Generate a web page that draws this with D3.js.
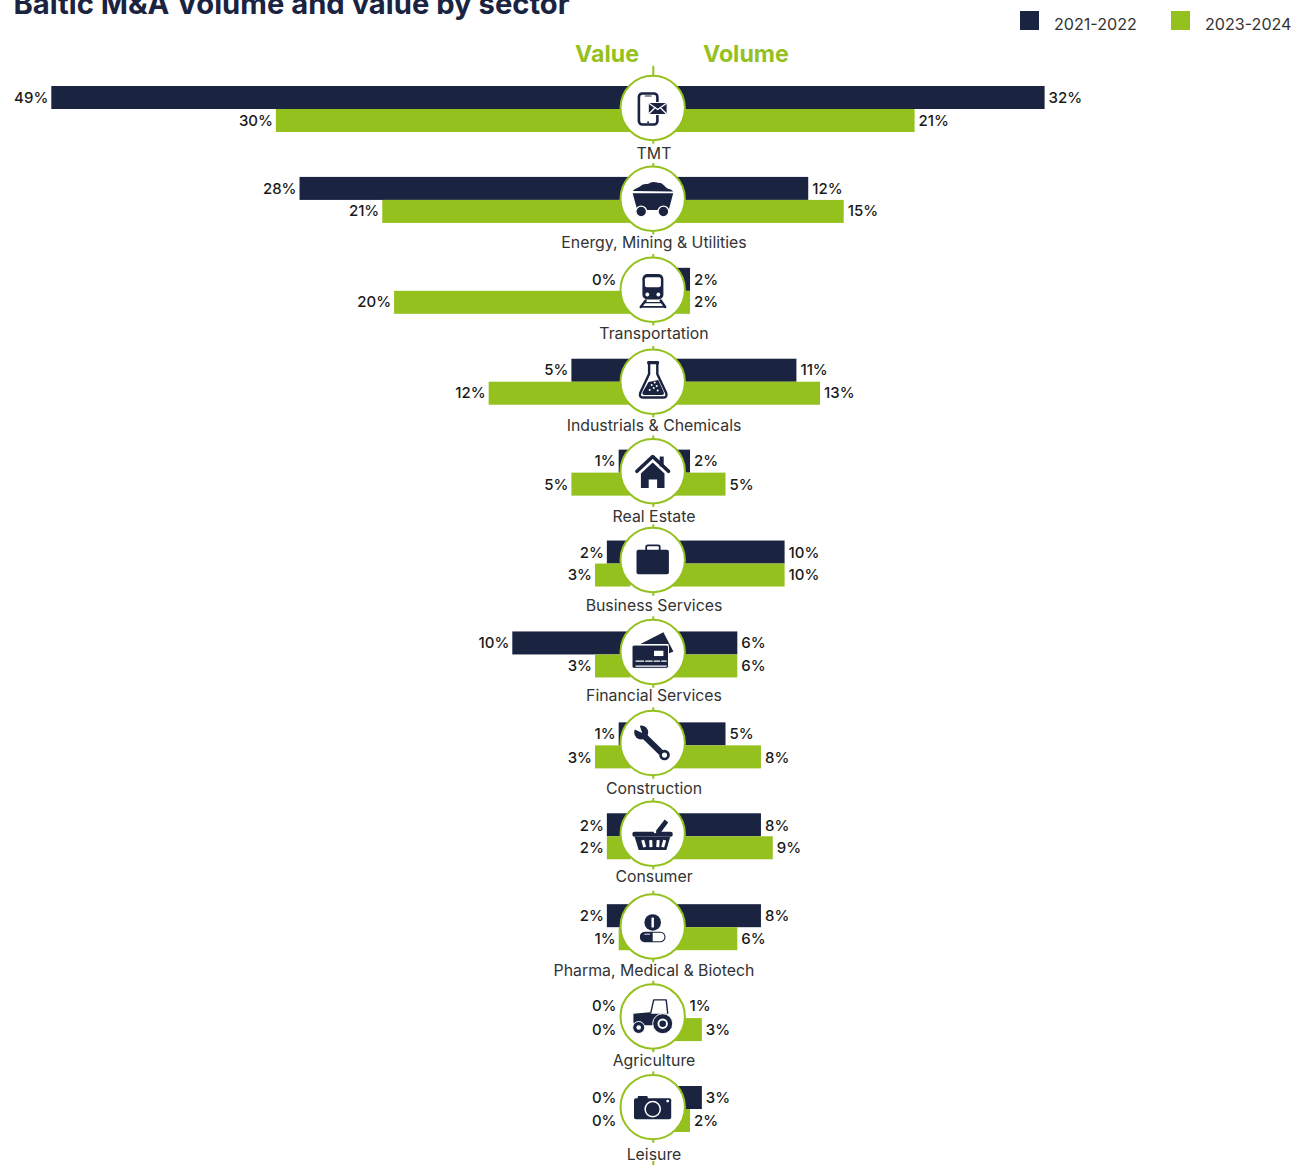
<!DOCTYPE html>
<html><head><meta charset="utf-8">
<script src="https://cdn.jsdelivr.net/npm/d3@7"></script>
<style>
html,body{margin:0;padding:0;background:#fff;overflow:hidden}
svg{display:block;font-family:Inter,sans-serif}
</style></head><body><div id="chart"></div>
<script>
const categories=["TMT","Energy, Mining & Utilities","Transportation","Industrials & Chemicals","Real Estate","Business Services","Financial Services","Construction","Consumer","Pharma, Medical & Biotech","Agriculture","Leisure"];
const periods=["2021-2022","2023-2024"];
const value2122=[49,28,0,5,1,2,10,1,2,2,0,0];
const value2324=[30,21,20,12,5,3,3,3,2,1,0,0];
const volume2122=[32,12,2,11,2,10,6,5,8,8,1,3];
const volume2324=[21,15,2,13,5,10,6,8,9,6,3,2];
const sideTitles=["Value","Volume"];
const chartTitle="Baltic M&A Volume and value by sector";

const W=1292,H=1165,NAVY="#1a2340",GREEN="#95c11f",CX=652.7;
// fine layout corrections per row
const catNudge=[0,-1,-1,0,0,-2,-3,-1,-4,-1,-2,1];
const topNudge=[0,1,1,0,0,1,0,0,1,0,-1,0];
const botNudge=[0,0,0,0,1,0,0,1,0,0,0,0];
const hubNudge=[0,-0.2,-0.1,1,-0.4,-2.5,-1.4,-1.3,-1.5,0.3,-0.6,-0.9];
const iconNudge=[0,0.3,0.3,-0.7,-0.2,0,0,0,1.3,0.7,0.7,1];

function P(g,d,fill,stroke,sw){const p=g.append("path").attr("d",d).attr("fill",fill||NAVY);if(stroke)p.attr("stroke",stroke).attr("stroke-width",sw||1).attr("stroke-linejoin","round").attr("stroke-linecap","round");return p;}
function C(g,x,y,r,fill,stroke,sw){const p=g.append("circle").attr("cx",x).attr("cy",y).attr("r",r).attr("fill",fill||NAVY);if(stroke)p.attr("stroke",stroke).attr("stroke-width",sw||1);return p;}
function Rr(g,x,y,w,h,rx,fill,stroke,sw){const p=g.append("rect").attr("x",x).attr("y",y).attr("width",w).attr("height",h).attr("rx",rx).attr("fill",fill||NAVY);if(stroke)p.attr("stroke",stroke).attr("stroke-width",sw||1);return p;}

const icons=[
g=>{ // phone + envelope
  Rr(g,-13.8,-14.5,18.5,31,3.5,"#fff",NAVY,2.6);
  Rr(g,-8,-12.6,7,1,0.5,NAVY);
  C(g,-4.6,14.2,1,NAVY);
  Rr(g,-4.5,-5.5,19,12,0.5,NAVY,"#fff",1.2);
  P(g,"M-3.5,-4.5L5,1.5L13.5,-4.5M-3.5,5.5L2.5,-0.5M13.5,5.5L7.5,-0.5","none","#fff",1.3);
},
g=>{ // mine cart
  P(g,"M-20,-8C-17,-11 -15,-11 -12,-13C-9,-16 -5,-14 -2,-16.5C1,-18 5,-16 8,-16C12,-14 13,-11 16,-10C18,-10 19,-9 20.5,-7.5Z");
  P(g,"M-20,-5.8L20.5,-5.8L16,11L-15.5,11Z");
  C(g,-11.5,12.5,5.4,NAVY,"#fff",1.4);
  C(g,10.7,12.5,5.4,NAVY,"#fff",1.4);
},
g=>{ // train
  Rr(g,-10.3,-16,21,25.5,5,NAVY);
  Rr(g,-7.8,-12.8,16,10,2,"#fff");
  C(g,-5.4,4.5,1.9,"#fff");C(g,5.6,4.5,1.9,"#fff");
  P(g,"M-7,10.5L-12,17M8,10.5L12.5,17","none",NAVY,2.4);
  P(g,"M-8.5,12.6L9.5,12.6","none",NAVY,1.4);
  P(g,"M-11.5,16.8L12,16.8","none",NAVY,1.8);
},
g=>{ // flask
  P(g,"M-3.6,-17.5L-3.6,-7L-12.5,12Q-14,16.5 -9,16.5L10,16.5Q15,16.5 13.5,12L4.6,-7L4.6,-17.5","#fff",NAVY,2.4);
  Rr(g,-5.5,-20,11.8,3.3,1.2,NAVY);
  P(g,"M-4.2,1L5.5,-1L11,11Q12,14 9,14L-8,14Q-11,14 -10,11Z");
  [[-1,4],[2,1.5],[1,7],[4,5],[-3,9],[5,9.5]].forEach(d=>C(g,d[0],d[1],1,"#fff"));
},
g=>{ // house
  P(g,"M-15.8,0.2L0,-14.5L15.8,0.2","none",NAVY,3.6);
  Rr(g,7,-14.5,4,10,0,NAVY);
  P(g,"M-11.8,2.5L0,-8.5L11.8,2.5L11.8,17L4.4,17L4.4,8.5L-4,8.5L-4,17L-11.8,17Z");
},
g=>{ // briefcase
  Rr(g,-16.2,-10.2,32.4,24.5,2,NAVY);
  P(g,"M-6.5,-9.5L-6.5,-13.4Q-6.5,-14.6 -5,-14.6L5.5,-14.6Q7,-14.6 7,-13.4L7,-9.5","none",NAVY,1.8);
},
g=>{ // cards
  P(g,"M-12.7,-7.7L10.7,-19.7L20.7,-0.5L15.8,1.5L15.8,-8L-12.7,-8Z");
  Rr(g,-20.7,-7,36.5,23.3,2,NAVY,"#fff",1);
  Rr(g,1.3,-1.3,9.4,5.3,0,"#fff");
  P(g,"M-16.7,9L-9,9M-7,9L-0.5,9M1.5,9L7,9M9,9L13.5,9","none","#fff",1.3);
  P(g,"M-16.7,14L13.5,14","none","#fff",1.3);
},
g=>{ // wrench
  P(g,"M-9.5,-8L8.5,9.5","none",NAVY,6).attr("stroke-linecap","butt");
  C(g,-11.5,-10.5,7,NAVY);
  P(g,"M-10.5,-10L-20,-14.5L-14,-20.5Z","#fff");
  C(g,11.8,12,5.3,NAVY);C(g,11.8,12,2.6,"#fff");
},
g=>{ // basket
  P(g,"M1.5,-2L12,-15.5L15.5,-12.5L7,-1Z");
  Rr(g,-20.3,-3.4,40.3,5,2,NAVY);
  P(g,"M-18,2L17.5,2L13.7,15L-14,15Z");
  C(g,2.3,-3,1.3,"#fff");
  P(g,"M-10,5L-8,12M-2,5L-1.7,12M5.5,5L5,12M12,5L10,12","none","#fff",3).attr("stroke-linecap","butt");
},
g=>{ // pharma
  C(g,0,-4.7,8.3,NAVY);
  Rr(g,-1.2,-9.8,2.4,10,0.5,"#fff");
  Rr(g,-12.3,5,24.6,9.5,4.7,"#fff",NAVY,1.1);
  P(g,"M0,4.7L-7.7,4.7A4.9,4.9 0 0 0 -7.7,14.7L0,14.7Z");
  P(g,"M-8,7L-3,7","none","#fff",0.9);
},
g=>{ // tractor
  P(g,"M-19.3,-3.5L-3,-5L-2,-3.5L14,-3.5L14,-2L4,8L-11,8L-17,8L-19.3,5Z");
  P(g,"M-2,-4L1,-17.3L13.5,-17.3L15,-4","none",NAVY,1.4);
  C(g,10,6.5,10,NAVY,"#fff",1);
  C(g,10,6.5,5.2,"#fff");C(g,10,6.5,3.3,NAVY);
  C(g,-14,10.3,6,NAVY,"#fff",1);
  C(g,-14,10.3,2.3,"#fff");
},
g=>{ // camera
  Rr(g,-15,-12,10,4,1,NAVY);
  Rr(g,-18.7,-9.8,37.2,21,2,NAVY);
  C(g,0,1,7.6,"none","#fff",1.5);
  C(g,15,-7,1.4,"#fff");
}
];

const svg=d3.select("#chart").append("svg").attr("width",W).attr("height",H);
const rowScale=d3.scalePoint().domain(categories).range([86,1086]);
const xL=d3.scaleLinear().domain([0,49]).range([630.5,51.3]);
const xR=d3.scaleLinear().domain([0,32]).range([666.4,1044.6]);
const BH=23;
const colors=d3.scaleOrdinal(periods,[NAVY,GREEN]);

svg.append("text").attr("x",13.5).attr("y",14).attr("font-size",29.2).attr("font-weight",700).attr("fill",NAVY).text(chartTitle);

// legend
const legX=[1020,1171];
periods.forEach((p,i)=>{
  svg.append("rect").attr("x",legX[i]).attr("y",11).attr("width",19).attr("height",19).attr("fill",colors(p));
  svg.append("text").attr("x",legX[i]+34).attr("y",30).attr("font-size",16.1).attr("fill","#333").text(p);
});

svg.append("text").attr("x",639).attr("y",62).attr("text-anchor","end").attr("font-size",23.2).attr("font-weight",700).attr("fill",GREEN).text(sideTitles[0]);
svg.append("text").attr("x",703).attr("y",62).attr("font-size",23.2).attr("font-weight",700).attr("fill",GREEN).text(sideTitles[1]);

// bars
[[value2122,0],[value2324,1]].forEach(([vals,k])=>{
  svg.append("g").selectAll("rect").data(vals).join("rect")
    .attr("x",d=>xL(d)).attr("width",d=>xL(0)-xL(d))
    .attr("y",(d,i)=>rowScale(categories[i])+k*BH).attr("height",BH).attr("fill",colors(periods[k]));
});
[[volume2122,0],[volume2324,1]].forEach(([vals,k])=>{
  svg.append("g").selectAll("rect").data(vals).join("rect")
    .attr("x",xR(0)).attr("width",d=>xR(d)-xR(0))
    .attr("y",(d,i)=>rowScale(categories[i])+k*BH).attr("height",BH).attr("fill",colors(periods[k]));
});

// value labels
function lab(x,y,anchor,t){
  svg.append("text").attr("x",x).attr("y",y).attr("text-anchor",anchor).attr("font-size",15).attr("font-weight",500).attr("fill","#1a1a1a").text(t);
}
categories.forEach((c,i)=>{
  const y=rowScale(c);
  const yt=y+16.5+topNudge[i], yb=y+39.5+botNudge[i];
  lab(Math.min(xL(value2122[i])-3,616.5),yt,"end",value2122[i]+"%");
  lab(Math.min(xL(value2324[i])-3,616.5),yb,"end",value2324[i]+"%");
  lab(Math.max(xR(volume2122[i])+4,689.5),yt,"start",volume2122[i]+"%");
  lab(Math.max(xR(volume2324[i])+4,689.5),yb,"start",volume2324[i]+"%");
  svg.append("text").attr("x",654).attr("y",y+72.5+catNudge[i]).attr("text-anchor","middle").attr("font-size",15.85).attr("fill","#333").text(c);
});

// hub circles, ticks
const R=32.2;
categories.forEach((c,i)=>{
  const cy=rowScale(c)+22+hubNudge[i];
  const g=svg.append("g").attr("transform",`translate(${CX},${cy})`);
  g.append("line").attr("x1",0.6).attr("x2",0.6).attr("y1",-R-(i==0?10:3.5)).attr("y2",R+3.5).attr("stroke",GREEN).attr("stroke-width",2);
  g.append("circle").attr("r",R).attr("fill","#fff").attr("stroke",GREEN).attr("stroke-width",2);
  icons[i](g.append("g").attr("transform",`translate(0,${iconNudge[i]})`));
});
svg.append("line").attr("x1",653.3).attr("x2",653.3).attr("y1",1161).attr("y2",1165).attr("stroke",GREEN).attr("stroke-width",2);
</script>
</body></html>
